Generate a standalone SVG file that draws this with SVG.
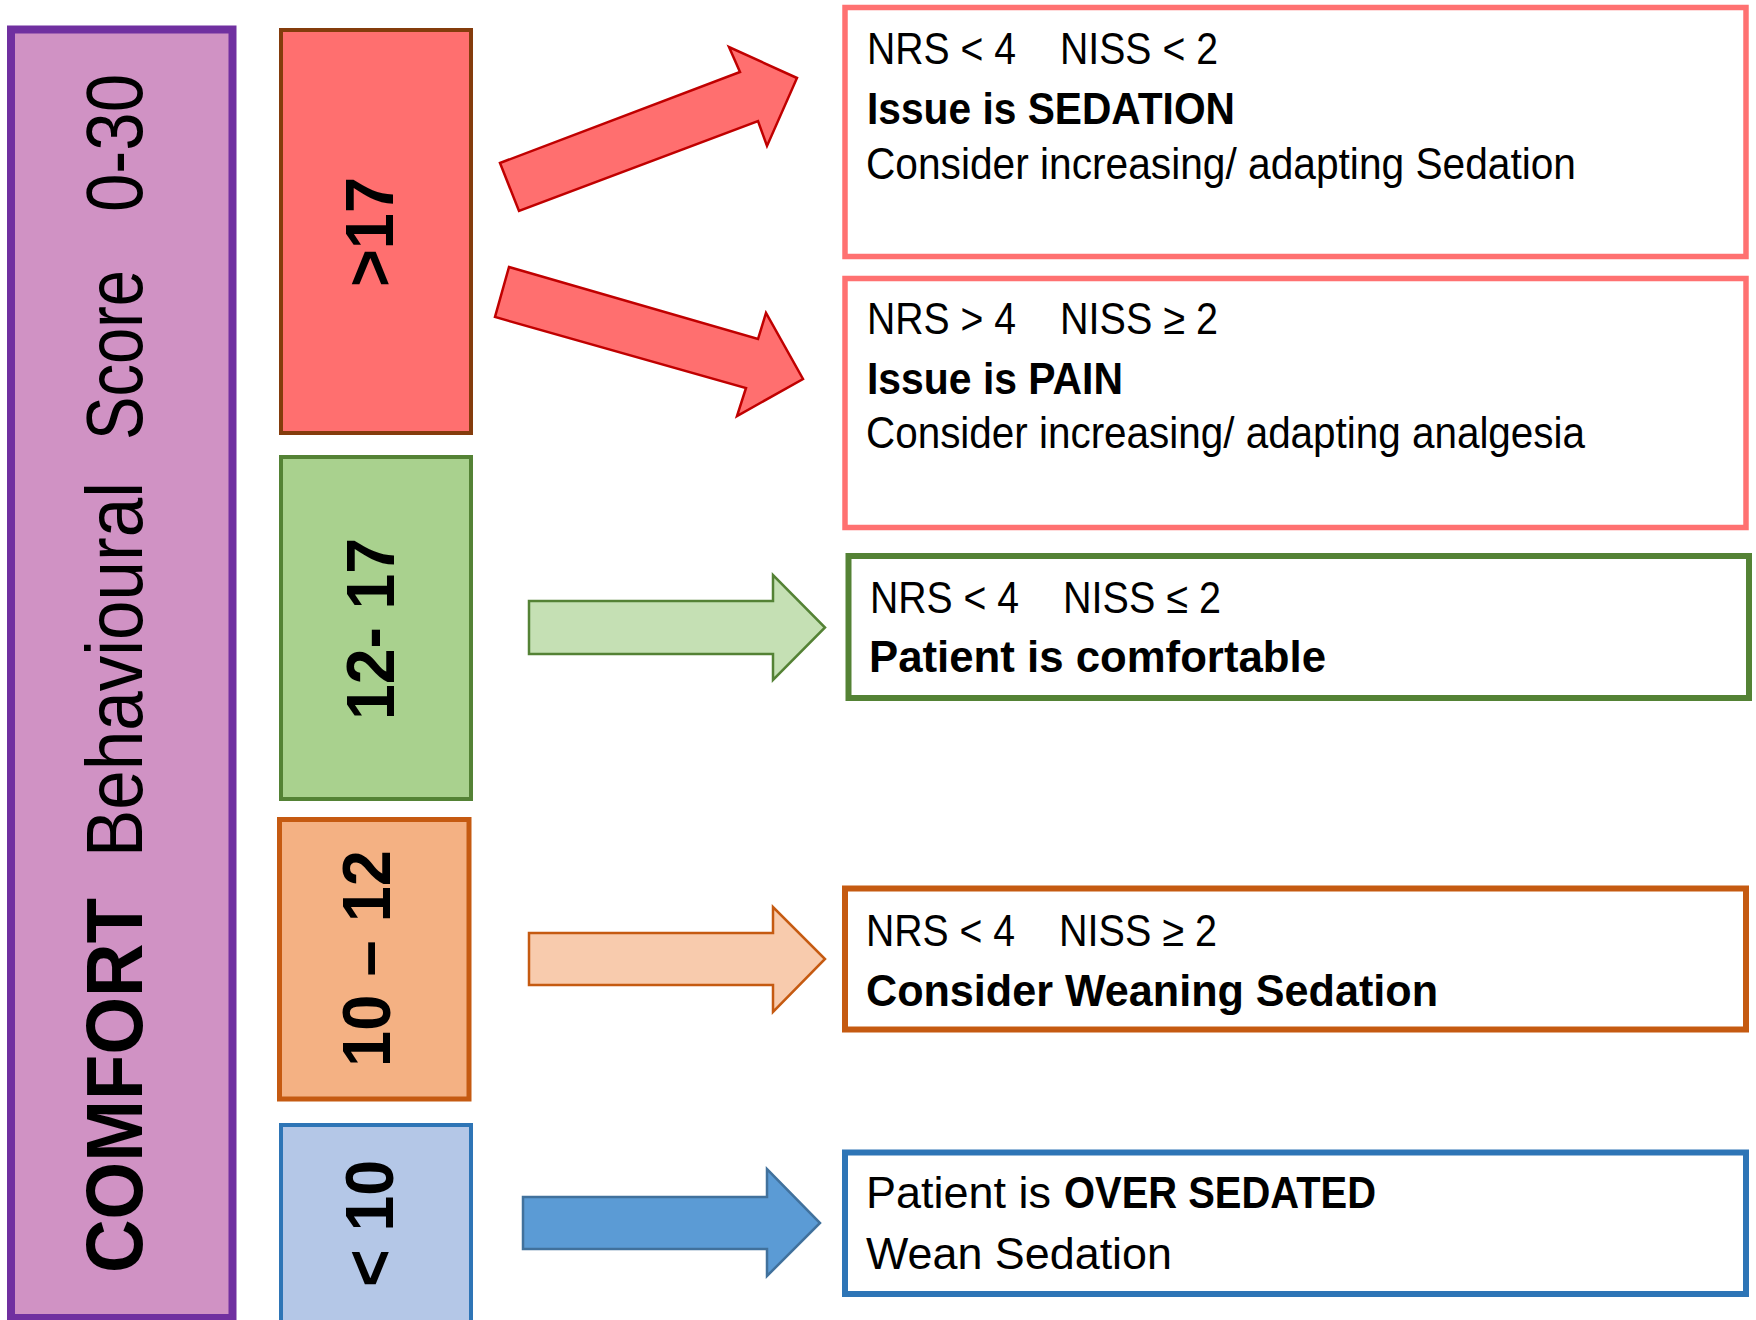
<svg xmlns="http://www.w3.org/2000/svg" width="1756" height="1320" viewBox="0 0 1756 1320">
  <style>
    .t { font-family: "Liberation Sans", Arial, sans-serif; fill: #000; }
    .b { font-weight: bold; }
    .side { font-size: 80px; }
    .band { font-size: 68px; font-weight: bold; }
    .msg { font-size: 44px; }
    .box { fill: #fff; }
  </style>

  <!-- score scale column -->
  <g id="scale">
    <rect x="11" y="29.5" width="221.5" height="1288.5" fill="#D092C4" stroke="#7030A0" stroke-width="8"/>
    <text class="t side b" transform="translate(142,1273) rotate(-90)" textLength="375" lengthAdjust="spacingAndGlyphs">COMFORT</text>
    <text class="t side" transform="translate(142,857) rotate(-90)" textLength="375" lengthAdjust="spacingAndGlyphs">Behavioural</text>
    <text class="t side" transform="translate(142,440) rotate(-90)" textLength="170" lengthAdjust="spacingAndGlyphs">Score</text>
    <text class="t side" transform="translate(142,212) rotate(-90)" textLength="138" lengthAdjust="spacingAndGlyphs">0-30</text>
  </g>

  <!-- score bands -->
  <g id="band-high">
    <rect x="281" y="30" width="190" height="403" fill="#FF6F6F" stroke="#843C0C" stroke-width="4"/>
    <text class="t band" transform="translate(393,287) rotate(-90)" textLength="110" lengthAdjust="spacingAndGlyphs">&gt;17</text>
  </g>
  <g id="band-mid">
    <rect x="281" y="457" width="190" height="342" fill="#A9D18E" stroke="#548235" stroke-width="4"/>
    <text class="t band" transform="translate(394,720) rotate(-90)" textLength="182" lengthAdjust="spacingAndGlyphs">12- 17</text>
  </g>
  <g id="band-low">
    <rect x="279.5" y="819.5" width="189.5" height="279.5" fill="#F4B183" stroke="#C55A11" stroke-width="5"/>
    <text class="t band" transform="translate(390,1067) rotate(-90)" textLength="217" lengthAdjust="spacingAndGlyphs">10 – 12</text>
  </g>
  <g id="band-under">
    <rect x="281" y="1125" width="190" height="205" fill="#B4C7E7" stroke="#2E75B6" stroke-width="4"/>
    <text class="t band" transform="translate(393,1287) rotate(-90)" textLength="127" lengthAdjust="spacingAndGlyphs">&lt; 10</text>
  </g>

  <!-- block arrows -->
  <g id="connectors" stroke-width="2.5" stroke-linejoin="miter">
    <polygon points="500,163 740,72 729,47 797,78 767,146 758,121 519,211" fill="#FF6F6F" stroke="#C00000"/>
    <polygon points="509,267 758,339 766,313 803,379 737,416 746,388 495,317" fill="#FF6F6F" stroke="#C00000"/>
    <polygon points="529,601 773,601 773,575 825,627.5 773,680 773,654 529,654" fill="#C5E0B4" stroke="#548235"/>
    <polygon points="529,933 773,933 773,907 825,959 773,1012 773,985 529,985" fill="#F8CBAD" stroke="#C55A11"/>
    <polygon points="523,1197 767,1197 767,1169 820,1223 767,1276 767,1249 523,1249" fill="#5B9BD5" stroke="#41719C"/>
  </g>

  <!-- outcome boxes -->
  <g id="sedation">
    <rect class="box" x="845" y="7.5" width="901" height="249" stroke="#FF7171" stroke-width="5.5"/>
    <text class="t msg" x="867" y="64" textLength="149" lengthAdjust="spacingAndGlyphs">NRS &lt; 4</text>
    <text class="t msg" x="1060" y="64" textLength="158" lengthAdjust="spacingAndGlyphs">NISS &lt; 2</text>
    <text class="t msg b" x="867" y="124" textLength="368" lengthAdjust="spacingAndGlyphs">Issue is SEDATION</text>
    <text class="t msg" x="866" y="179" textLength="710" lengthAdjust="spacingAndGlyphs">Consider increasing/ adapting Sedation</text>
  </g>
  <g id="pain">
    <rect class="box" x="845" y="278.5" width="901" height="249" stroke="#FF7171" stroke-width="5.5"/>
    <text class="t msg" x="867" y="334" textLength="149" lengthAdjust="spacingAndGlyphs">NRS &gt; 4</text>
    <text class="t msg" x="1060" y="334" textLength="158" lengthAdjust="spacingAndGlyphs">NISS ≥ 2</text>
    <text class="t msg b" x="867" y="394" textLength="256" lengthAdjust="spacingAndGlyphs">Issue is PAIN</text>
    <text class="t msg" x="866" y="448" textLength="719" lengthAdjust="spacingAndGlyphs">Consider increasing/ adapting analgesia</text>
  </g>
  <g id="comfortable">
    <rect class="box" x="848.5" y="556" width="900.5" height="142" stroke="#548235" stroke-width="6"/>
    <text class="t msg" x="870" y="613" textLength="149" lengthAdjust="spacingAndGlyphs">NRS &lt; 4</text>
    <text class="t msg" x="1063" y="613" textLength="158" lengthAdjust="spacingAndGlyphs">NISS ≤ 2</text>
    <text class="t msg b" x="869" y="672" textLength="457" lengthAdjust="spacingAndGlyphs">Patient is comfortable</text>
  </g>
  <g id="weaning">
    <rect class="box" x="845" y="888.5" width="901" height="141" stroke="#C55A11" stroke-width="6"/>
    <text class="t msg" x="866" y="946" textLength="149" lengthAdjust="spacingAndGlyphs">NRS &lt; 4</text>
    <text class="t msg" x="1059" y="946" textLength="158" lengthAdjust="spacingAndGlyphs">NISS ≥ 2</text>
    <text class="t msg b" x="866" y="1006" textLength="572" lengthAdjust="spacingAndGlyphs">Consider Weaning Sedation</text>
  </g>
  <g id="oversedated">
    <rect class="box" x="845" y="1152.5" width="901" height="141.5" stroke="#2E75B6" stroke-width="6"/>
    <text class="t msg" x="866" y="1208" textLength="185" lengthAdjust="spacingAndGlyphs">Patient is</text>
    <text class="t msg b" x="1064" y="1208" textLength="312" lengthAdjust="spacingAndGlyphs">OVER SEDATED</text>
    <text class="t msg" x="866" y="1269" textLength="306" lengthAdjust="spacingAndGlyphs">Wean Sedation</text>
  </g>
</svg>
